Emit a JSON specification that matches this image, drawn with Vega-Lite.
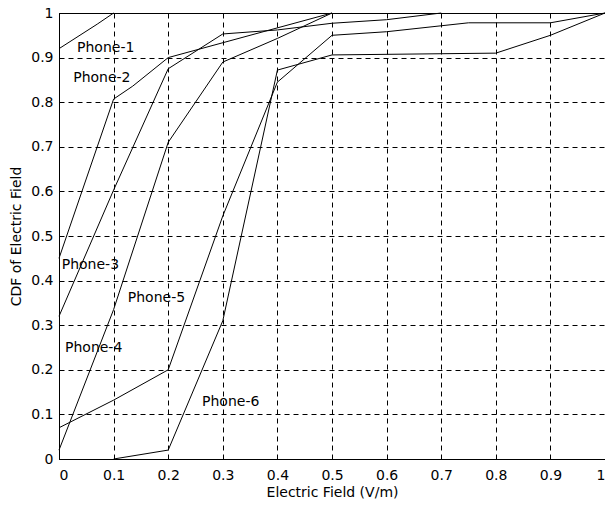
{
  "$schema": "https://vega.github.io/schema/vega-lite/v6.json",
  "width": 546,
  "height": 446,
  "autosize": {"type": "none"},
  "padding": {"left": 59, "top": 13, "right": 0, "bottom": 49},
  "background": "white",
  "config": {
    "view": {"stroke": "black", "strokeWidth": 1},
    "font": "DejaVu Sans",
    "axis": {
      "grid": true,
      "gridColor": "black",
      "gridOpacity": 1,
      "gridDash": [5, 4],
      "gridWidth": 1,
      "domainColor": "black",
      "ticks": false,
      "labelFont": "DejaVu Sans",
      "labelFontSize": 14,
      "labelColor": "black",
      "titleFont": "DejaVu Sans",
      "titleFontSize": 14,
      "titleFontWeight": "normal",
      "titleColor": "black"
    }
  },
  "datasets": {
    "curves": [
      {"phone": "A", "e": 0, "cdf": 0.92},
      {"phone": "A", "e": 0.07, "cdf": 0.975},
      {"phone": "A", "e": 0.1, "cdf": 1.0},
      {"phone": "B", "e": 0, "cdf": 0.45},
      {"phone": "B", "e": 0.1, "cdf": 0.807},
      {"phone": "B", "e": 0.135, "cdf": 0.836},
      {"phone": "B", "e": 0.2, "cdf": 0.9},
      {"phone": "B", "e": 0.5, "cdf": 1.0},
      {"phone": "C", "e": 0, "cdf": 0.32},
      {"phone": "C", "e": 0.1, "cdf": 0.603},
      {"phone": "C", "e": 0.2, "cdf": 0.875},
      {"phone": "C", "e": 0.3, "cdf": 0.953},
      {"phone": "C", "e": 0.4, "cdf": 0.962},
      {"phone": "C", "e": 0.5, "cdf": 0.977},
      {"phone": "C", "e": 0.6, "cdf": 0.985},
      {"phone": "C", "e": 0.7, "cdf": 1.0},
      {"phone": "D", "e": 0, "cdf": 0.07},
      {"phone": "D", "e": 0.1, "cdf": 0.132},
      {"phone": "D", "e": 0.2, "cdf": 0.2},
      {"phone": "D", "e": 0.3, "cdf": 0.545},
      {"phone": "D", "e": 0.4, "cdf": 0.845},
      {"phone": "D", "e": 0.5, "cdf": 0.95},
      {"phone": "D", "e": 0.6, "cdf": 0.958},
      {"phone": "D", "e": 0.75, "cdf": 0.978},
      {"phone": "D", "e": 0.9, "cdf": 0.978},
      {"phone": "D", "e": 1.0, "cdf": 1.0},
      {"phone": "E", "e": 0, "cdf": 0.02},
      {"phone": "E", "e": 0.1, "cdf": 0.335},
      {"phone": "E", "e": 0.2, "cdf": 0.71},
      {"phone": "E", "e": 0.3, "cdf": 0.89},
      {"phone": "E", "e": 0.4, "cdf": 0.943},
      {"phone": "E", "e": 0.5, "cdf": 1.0},
      {"phone": "G", "e": 0.1, "cdf": 0.0},
      {"phone": "G", "e": 0.2, "cdf": 0.02},
      {"phone": "G", "e": 0.3, "cdf": 0.31},
      {"phone": "G", "e": 0.4, "cdf": 0.872},
      {"phone": "G", "e": 0.5, "cdf": 0.906},
      {"phone": "G", "e": 0.8, "cdf": 0.91},
      {"phone": "G", "e": 0.9, "cdf": 0.95},
      {"phone": "G", "e": 1.0, "cdf": 1.0}
    ],
    "labels": [
      {"label": "Phone-1", "e": 0.033, "cdf": 0.921},
      {"label": "Phone-2", "e": 0.026, "cdf": 0.855},
      {"label": "Phone-3", "e": 0.005, "cdf": 0.435},
      {"label": "Phone-5", "e": 0.126, "cdf": 0.362},
      {"label": "Phone-4", "e": 0.011, "cdf": 0.25},
      {"label": "Phone-6", "e": 0.262, "cdf": 0.128}
    ]
  },
  "layer": [
    {
      "data": {"name": "curves"},
      "mark": {"type": "line", "color": "black", "strokeWidth": 1},
      "encoding": {
        "x": {
          "field": "e",
          "type": "quantitative",
          "scale": {"domain": [0, 1], "nice": false, "zero": false},
          "axis": {
            "title": "Electric Field (V/m)",
            "values": [0, 0.1, 0.2, 0.3, 0.4, 0.5, 0.6, 0.7, 0.8, 0.9, 1],
            "format": "~g",
            "labelPadding": 9,
            "titlePadding": 3
          }
        },
        "y": {
          "field": "cdf",
          "type": "quantitative",
          "scale": {"domain": [0, 1], "nice": false},
          "axis": {
            "title": "CDF of Electric Field",
            "values": [0, 0.1, 0.2, 0.3, 0.4, 0.5, 0.6, 0.7, 0.8, 0.9, 1],
            "format": "~g",
            "labelPadding": 6,
            "titlePadding": 7
          }
        },
        "detail": {"field": "phone", "type": "nominal"}
      }
    },
    {
      "data": {"name": "labels"},
      "mark": {"type": "text", "align": "left", "baseline": "middle", "font": "DejaVu Sans", "fontSize": 14, "color": "black"},
      "encoding": {
        "x": {"field": "e", "type": "quantitative"},
        "y": {"field": "cdf", "type": "quantitative"},
        "text": {"field": "label", "type": "nominal"}
      }
    }
  ]
}
